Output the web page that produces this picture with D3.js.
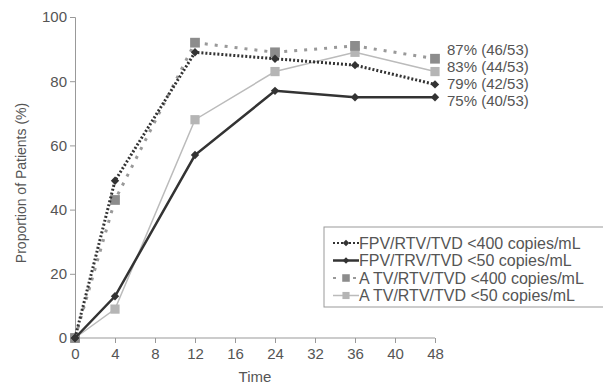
<!DOCTYPE html>
<html>
<head>
<meta charset="utf-8">
<script src="https://cdn.jsdelivr.net/npm/d3@7"></script>
<style>
  body { margin: 0; background: #fff; }
  text { font-family: "Liberation Sans", Arial, sans-serif; fill: #555; }
</style>
</head>
<body>
<div id="chart"></div>
<script>
const width = 603, height = 384,
    margin = ({ top: 17, right: 168, bottom: 46, left: 75 });

// categorical time ticks (equally spaced)
const timeTicks = ["0", "4", "8", "12", "16", "24", "32", "36", "40", "48"];
const timePoints = ["0", "4", "12", "24", "36", "48"];

const fpv400 = [0, 49, 89, 87, 85, 79];
const fpv50 = [0, 13, 57, 77, 75, 75];
const atv400 = [0, 43, 92, 89, 91, 87];
const atv50 = [0, 9, 68, 83, 89, 83];

const endLabels = ["87% (46/53)", "83% (44/53)", "79% (42/53)", "75% (40/53)"];

const series = [
  { name: "FPV/RTV/TVD <400 copies/mL", values: fpv400, color: "#333", width: 3, dash: "2,2", marker: "diamond", size: 45, mcolor: "#333" },
  { name: "FPV/TRV/TVD <50 copies/mL", values: fpv50, color: "#333", width: 2.5, dash: null, marker: "diamond", size: 45, mcolor: "#333" },
  { name: "A TV/RTV/TVD <400 copies/mL", values: atv400, color: "#999", width: 3, dash: "3,7", marker: "square", size: 95, mcolor: "#8c8c8c" },
  { name: "A TV/RTV/TVD <50 copies/mL", values: atv50, color: "#bbb", width: 1.5, dash: null, marker: "square", size: 85, mcolor: "#b5b5b5" }
];

const svg = d3.select("#chart")
  .append("svg")
  .attr("width", width)
  .attr("height", height);

const x = d3.scalePoint()
  .domain(timeTicks)
  .range([margin.left, width - margin.right]);

const y = d3.scaleLinear()
  .domain([0, 100])
  .range([height - margin.bottom, margin.top]);

// x axis
const xAxis = svg.append("g")
  .attr("transform", `translate(0,${height - margin.bottom})`)
  .call(d3.axisBottom(x).tickSizeOuter(0).tickSize(5).tickPadding(5));
xAxis.select(".domain").attr("stroke", "#999").attr("d", `M${margin.left},0H${width - margin.right}`);
xAxis.selectAll(".tick line").attr("stroke", "#999");
xAxis.selectAll("text").attr("font-size", 15).style("fill", "#555");

// y axis
const yAxis = svg.append("g")
  .attr("transform", `translate(${margin.left},0)`)
  .call(d3.axisLeft(y).tickValues([0, 20, 40, 60, 80, 100]).tickSizeOuter(0).tickSize(5).tickPadding(3));
yAxis.select(".domain").attr("stroke", "#999");
yAxis.selectAll(".tick line").attr("stroke", "#999");
yAxis.selectAll("text").attr("font-size", 15).style("fill", "#555");

svg.append("text")
  .attr("text-anchor", "middle")
  .attr("transform", "translate(21,183) rotate(-90)")
  .attr("dy", "0.35em")
  .attr("font-size", 14)
  .text("Proportion of Patients (%)");

svg.append("text")
  .attr("text-anchor", "middle")
  .attr("x", 255)
  .attr("y", 382)
  .attr("font-size", 15)
  .text("Time");

const line = d3.line()
  .x((d, i) => x(timePoints[i]))
  .y(d => y(d));

// draw light series first, dark on top
const order = [3, 2, 1, 0];
for (const k of order) {
  const s = series[k];
  svg.append("path")
    .datum(s.values)
    .attr("d", line)
    .attr("fill", "none")
    .attr("stroke", s.color)
    .attr("stroke-width", s.width)
    .attr("stroke-dasharray", s.dash);
  const sym = d3.symbol()
    .type(s.marker === "diamond" ? d3.symbolDiamond2 : d3.symbolSquare)
    .size(s.size);
  svg.append("g").selectAll("path")
    .data(s.values)
    .join("path")
    .attr("transform", (d, i) => `translate(${x(timePoints[i])},${y(d)})`)
    .attr("d", sym)
    .attr("fill", s.mcolor);
}

// end labels
svg.append("g").selectAll("text")
  .data(endLabels)
  .join("text")
  .attr("x", 447)
  .attr("y", (d, i) => 50 + i * 17)
  .attr("dy", "0.35em")
  .attr("font-size", 15)
  .text(d => d);

// legend
const legend = svg.append("g").attr("transform", "translate(324,227)");
legend.append("rect")
  .attr("width", 282)
  .attr("height", 80)
  .attr("fill", "#fff")
  .attr("stroke", "#999");
series.forEach((s, i) => {
  const g = legend.append("g").attr("transform", `translate(0,${16 + i * 17.5})`);
  g.append("line")
    .attr("x1", 9).attr("x2", 35)
    .attr("stroke", s.color)
    .attr("stroke-width", s.width === 3 ? 2 : s.width)
    .attr("stroke-dasharray", s.dash);
  g.append("path")
    .attr("transform", "translate(22,0)")
    .attr("d", d3.symbol().type(s.marker === "diamond" ? d3.symbolDiamond2 : d3.symbolSquare).size(s.size * 0.6))
    .attr("fill", s.mcolor);
  g.append("text")
    .attr("x", 35)
    .attr("dy", "0.35em")
    .attr("font-size", 16)
    .text(s.name);
});
</script>
</body>
</html>
